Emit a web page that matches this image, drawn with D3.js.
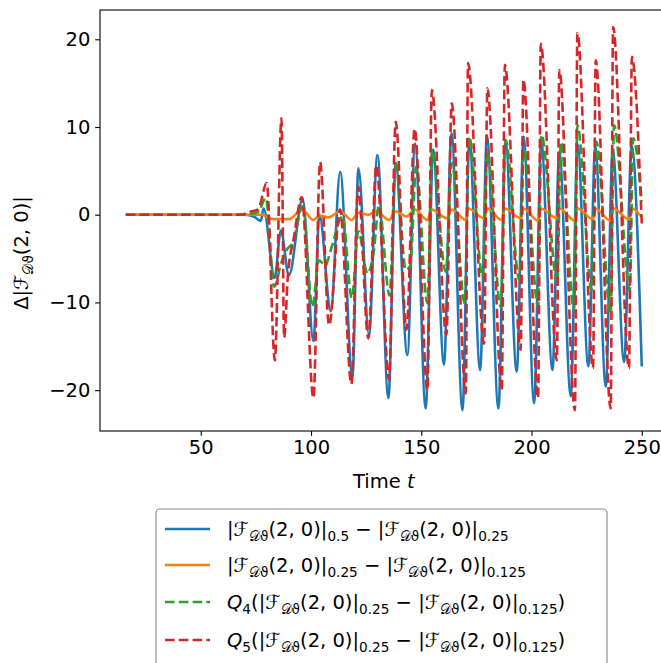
<!DOCTYPE html>
<html><head><meta charset="utf-8">
<script src="https://cdn.jsdelivr.net/npm/d3@7"></script>
<style>body{margin:0;background:#fff}svg{display:block}</style>
</head><body><svg id="c" width="661" height="663"></svg>
<script>
// ---- data ----
const xTicks = [50, 100, 150, 200, 250];
const yTicks = [-20, -10, 0, 10, 20];
const xDomain = [4.3, 261.7];
const yDomain = [-24.66, 23.34];

const seriesNames = ["diff05", "diff025", "q4", "q5"];
const seriesColors = ["#1f77b4", "#ff7f0e", "#2ca02c", "#d62728"];
const seriesDashed = [false, false, true, true];

const diff05 = [[16,0],[70,0],[74,-0.2],[77.2,-0.7],[78.5,0.7],[83.5,-7.2],[86.3,-1.8],[90,-6.9],[96.2,1.8],[101.1,-14.4],[103.8,0],[109,-11],[113.2,4.9],[118.8,-18.5],[121.5,5.3],[126.3,-13.7],[130.1,6.8],[135.1,-20.9],[138.4,5.9],[143.7,-16.0],[147.2,8.1],[152,-22.1],[155.4,7.4],[160.3,-17.1],[163.7,9.3],[168.7,-22.3],[171.8,8.5],[176.7,-17.7],[179.8,9.0],[185,-22.1],[188.2,8.4],[193.3,-17.9],[196.4,8.9],[201.2,-21.5],[204.4,8.3],[209.5,-17.7],[212.6,7.2],[217.8,-20.7],[220.9,8.0],[225.8,-17.3],[228.9,7.8],[233.7,-19.6],[236.8,7.4],[242,-16.8],[245.4,7.9],[250,-17.3]];

const diff025 = [[16,0],[78,0],[80,-0.3],[83.5,-0.5],[90,-0.5],[96,0.6],[101,-0.6],[104,-0.1],[108,-0.3],[113.2,0.4],[118.5,-0.6],[121.4,0.2],[126,0.0],[129.6,0.4],[135.4,-0.6],[138.4,0.4],[143.3,-0.2],[147,0.6],[152.8,-0.6],[154.8,0.6],[161.4,-0.4],[163.8,0.6],[170.2,-0.6],[171.2,0.7],[178.5,-0.4],[180,0.7],[186.5,-0.6],[187.9,0.7],[195.1,-0.4],[196.3,0.7],[203,-0.7],[204.2,0.7],[211.5,-0.4],[212.6,0.7],[219.7,-0.7],[220.8,0.7],[227.9,-0.5],[229.1,0.7],[235.9,-0.7],[237,0.7],[244.2,-0.5],[245.5,0.7],[250,-0.3]];

const q4 = [[16,0],[70,0],[76,0.3],[79.5,1.9],[83.3,-8.2],[86.5,-5.5],[89,-4],[91.7,-3.2],[96.3,1.0],[100.6,-10.5],[103.6,-5.2],[106.5,-5.8],[109,-4],[114.3,-0.2],[118.5,-9.5],[121.5,-1.9],[125.6,-6.7],[128.5,-4.1],[130.8,1.1],[135.6,-9.2],[138.4,5.9],[143,-6.3],[145,-5.8],[147.7,5.5],[152.8,-10.1],[154.9,7.4],[161.1,-6.5],[163.9,5.9],[169.7,-10.1],[171.7,8.9],[177.8,-7.1],[180,7.0],[186,-10.5],[188.3,8.5],[194.4,-7.4],[196.6,7.4],[203,-10.5],[204.5,9.1],[211.7,-7.8],[213.3,8.3],[219.3,-10.9],[220.8,10.2],[227.3,-8.6],[229.4,8.3],[235.9,-11.2],[237.4,10.2],[244.6,-8.6],[246.1,8.7],[250,1.5]];

const q5 = [[16,0],[68,0],[72,0.3],[76,0.6],[79.9,3.6],[83.6,-16.6],[86.6,11.0],[87.8,-14],[89.5,-7],[92.3,-2.5],[95.8,2.0],[101.1,-20.9],[104.1,6.0],[108.2,-12.6],[113.2,0.6],[118.3,-19.3],[121.4,3.2],[126,-14.1],[129.6,5.6],[135.4,-18.8],[138.4,10.6],[143.3,-13.1],[147,9.8],[152.8,-20],[154.8,14.2],[161.4,-13.7],[163.8,12.7],[170.2,-20.4],[171.2,17.3],[178.5,-14.7],[180,14.4],[186.5,-20],[187.9,17.1],[195.1,-15.4],[196.3,15.4],[203,-20.9],[204.2,19.5],[211.5,-16.6],[212.6,16.5],[219.7,-22.3],[220.8,20.7],[227.9,-17.5],[229.1,17.6],[235.9,-22.1],[237,21.4],[244.2,-17.5],[245.5,18.0],[250,-1.0]];

const seriesData = [diff05, diff025, q4, q5];

// legend labels: [text, isSubscript, fontClass]
const F = "\u2131", D = "\uD835\uDC9F\u03D1";
const legendLabels = [
  [["|"],[F],[D,"sub"],["(2, 0)|"],["0.5","sub"],[" \u2212 |"],[F],[D,"sub"],["(2, 0)|"],["0.25","sub"]],
  [["|"],[F],[D,"sub"],["(2, 0)|"],["0.25","sub"],[" \u2212 |"],[F],[D,"sub"],["(2, 0)|"],["0.125","sub"]],
  [["Q","it"],["4","sub"],["(|"],[F],[D,"sub"],["(2, 0)|"],["0.25","sub"],[" \u2212 |"],[F],[D,"sub"],["(2, 0)|"],["0.125","sub"],[")"]],
  [["Q","it"],["5","sub"],["(|"],[F],[D,"sub"],["(2, 0)|"],["0.25","sub"],[" \u2212 |"],[F],[D,"sub"],["(2, 0)|"],["0.125","sub"],[")"]]
];
const yLabel = [["\u0394|"],[F],[D,"sub"],["(2, 0)|"]];
const xLabel = [["Time "],["t","it"]];

// ---- drawing ----
const FS = 19.5;
const font = "DejaVu Sans";
const svg = d3.select("#c");
const L = 100, T = 10, B = 431;
const R = L + (xDomain[1]-xDomain[0]) * 2.205;
const x = d3.scaleLinear().domain(xDomain).range([L, R]);
const y = d3.scaleLinear().domain(yDomain).range([B, T]);

svg.append("defs").append("clipPath").attr("id","clip")
  .append("rect").attr("x",L).attr("y",T).attr("width",R-L).attr("height",B-T);

const line = d3.line().x(d=>x(d[0])).y(d=>y(d[1])).curve(d3.curveMonotoneX);
const g = svg.append("g").attr("clip-path","url(#clip)");
seriesData.forEach((s,i)=>{
  g.append("path").attr("d", line(s)).attr("fill","none")
    .attr("stroke", seriesColors[i]).attr("stroke-width", 2.6)
    .attr("stroke-linejoin","round")
    .attr("stroke-dasharray", seriesDashed[i] ? "9.6,4.2" : null);
});

// frame
svg.append("rect").attr("x",L).attr("y",T).attr("width",R-L).attr("height",B-T)
  .attr("fill","none").attr("stroke","#000").attr("stroke-width",1.1);

const xAxis = d3.axisBottom(x).tickValues(xTicks).tickSize(4.8).tickPadding(4.8).tickSizeOuter(0);
const yAxis = d3.axisLeft(y).tickValues(yTicks).tickSize(4.8).tickPadding(4.8).tickSizeOuter(0)
  .tickFormat(d => d < 0 ? "\u2212" + Math.abs(d) : d);
const gx = svg.append("g").attr("transform",`translate(0,${B})`).call(xAxis);
const gy = svg.append("g").attr("transform",`translate(${L},0)`).call(yAxis);
[gx,gy].forEach(a=>{
  a.select(".domain").remove();
  a.selectAll("line").attr("stroke","#000").attr("stroke-width",1.1);
  a.selectAll("text").attr("fill","#000").style("font-family",font).style("font-size",FS+"px");
});

function mathText(sel, parts, fs){
  let inSub = false;
  parts.forEach(p=>{
    const sub = p[1]==="sub";
    const ts = sel.append("tspan").text(p[0]);
    if (sub && !inSub) ts.attr("dy", fs*0.28);
    if (!sub && inSub) ts.attr("dy", -fs*0.28);
    if (sub) ts.style("font-size", (fs*0.7)+"px");
    if (p[1]==="it") ts.style("font-style","italic");
    inSub = sub;
  });
}

const yl = svg.append("text").attr("transform","translate(28,253) rotate(-90)")
  .attr("text-anchor","middle").style("font-family",font).style("font-size",FS+"px").attr("fill","#000");
mathText(yl, yLabel, FS);

const xl = svg.append("text").attr("x",(L+R)/2).attr("y",488)
  .attr("text-anchor","middle").style("font-family",font).style("font-size",FS+"px").attr("fill","#000");
mathText(xl, xLabel, FS);

// legend
const lg = svg.append("g");
lg.append("rect").attr("x",156).attr("y",509).attr("width",451).attr("height",170).attr("rx",4)
  .attr("fill","#fff").attr("stroke","#888").attr("stroke-width",1.1);
const rowY = [529, 565, 602, 640];
legendLabels.forEach((lab,i)=>{
  lg.append("line").attr("x1",165).attr("x2",210).attr("y1",rowY[i]).attr("y2",rowY[i])
    .attr("stroke",seriesColors[i]).attr("stroke-width",2.6)
    .attr("stroke-dasharray", seriesDashed[i] ? "9.6,4.2" : null);
  const t = lg.append("text").attr("x",227).attr("y",rowY[i]+7)
    .style("font-family",font).style("font-size",FS+"px").attr("fill","#000");
  mathText(t, lab, FS);
});
</script></body></html>
